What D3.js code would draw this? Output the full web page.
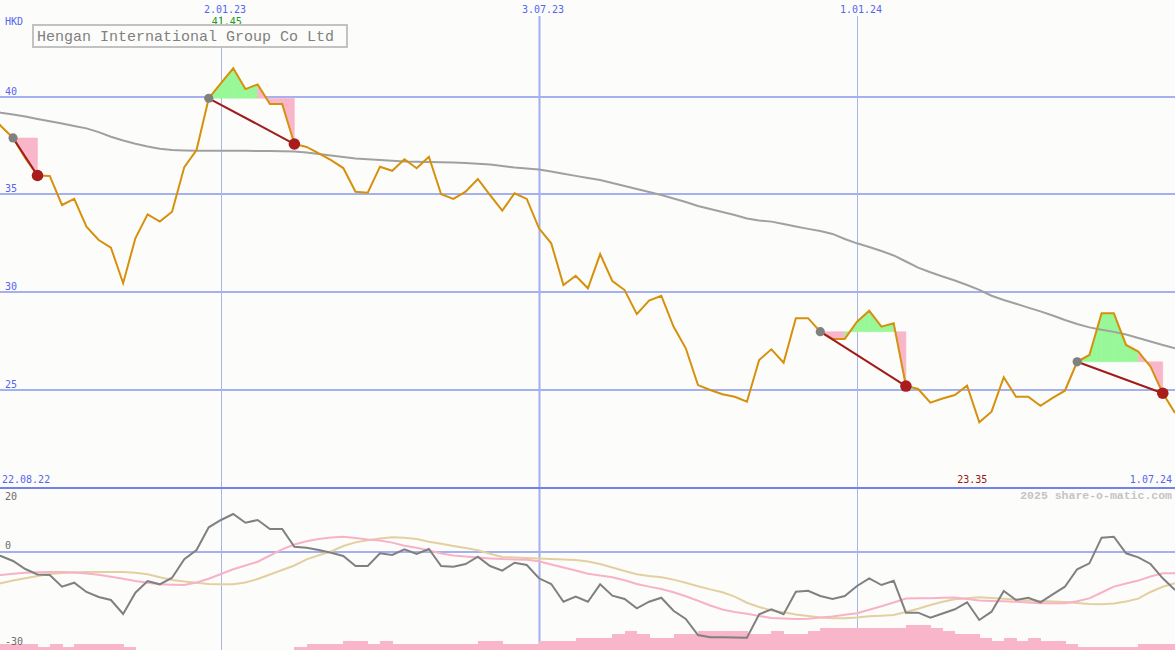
<!DOCTYPE html>
<html><head><meta charset="utf-8">
<script src="https://cdn.jsdelivr.net/npm/d3@7"></script>
<style>html,body{margin:0;padding:0;background:#fcfdfa;overflow:hidden}svg{display:block}</style>
</head><body><svg id="c" width="1175" height="650"></svg>
<script>
// ---- data ----
const startDate = new Date(2022, 7, 22);   // first weekly point
const endDate = new Date(2024, 6, 1);      // last weekly point
const title = "Hengan International Group Co Ltd";
const currency = "HKD";
const price = [39.22, 38.50, 37.89, 36.86, 35.97, 35.95, 34.46, 34.77, 33.35, 32.67,
 32.28, 30.46, 32.76, 33.98, 33.61, 34.12, 36.40, 37.27, 39.92, 40.70,
 41.45, 40.39, 40.63, 39.63, 39.63, 37.58, 37.43, 37.10, 36.76, 36.35,
 35.14, 35.09, 36.42, 36.21, 36.80, 36.34, 36.93, 35.01, 34.77, 35.14,
 35.79, 34.97, 34.17, 35.06, 34.77, 33.27, 32.50, 30.37, 30.84, 30.20,
 31.95, 30.57, 30.11, 28.88, 29.57, 29.82, 28.24, 27.13, 25.25, 25.00,
 24.78, 24.65, 24.40, 26.53, 27.08, 26.39, 28.67, 28.67, 27.98, 27.61,
 27.61, 28.49, 29.05, 28.24, 28.41, 25.20, 25.05, 24.35, 24.56, 24.74,
 25.22, 23.35, 23.89, 25.65, 24.65, 24.65, 24.19, 24.59, 24.96, 26.44,
 26.79, 28.92, 28.92, 27.30, 26.96, 26.19, 24.83, 23.82];
const movingAvg = [39.29, 39.18, 39.09, 38.99, 38.86, 38.74, 38.63, 38.50, 38.38, 38.19,
 37.95, 37.76, 37.59, 37.45, 37.34, 37.27, 37.25, 37.24, 37.24, 37.24,
 37.24, 37.23, 37.22, 37.22, 37.21, 37.20, 37.15, 37.07, 36.99, 36.92,
 36.84, 36.80, 36.76, 36.72, 36.68, 36.67, 36.66, 36.65, 36.63, 36.61,
 36.57, 36.53, 36.46, 36.38, 36.33, 36.28, 36.17, 36.06, 35.95, 35.84,
 35.74, 35.59, 35.43, 35.28, 35.13, 34.97, 34.79, 34.61, 34.41, 34.26,
 34.10, 33.95, 33.77, 33.67, 33.61, 33.49, 33.36, 33.24, 33.13, 32.98,
 32.72, 32.50, 32.31, 32.11, 31.88, 31.57, 31.26, 31.02, 30.80, 30.60,
 30.37, 30.12, 29.82, 29.60, 29.41, 29.21, 29.02, 28.81, 28.58, 28.37,
 28.20, 28.08, 27.97, 27.84, 27.66, 27.48, 27.30, 27.13];
const oscillator = [-0.3, -1.34, -2.91, -5.41, -7.13, -7.28, -10.94, -9.69, -12.59, -14.16,
 -15.09, -19.47, -12.81, -9.16, -10.19, -8.13, -2.38, 0.53, 7.63, 9.91,
 11.78, 9.06, 9.91, 7.09, 7.09, 1.56, 1.25, 0.53, -0.31, -1.34,
 -4.47, -4.47, -0.50, -1.03, 0.75, -0.72, 0.84, -4.47, -4.69, -3.84,
 -1.56, -4.47, -5.94, -3.44, -4.16, -8.31, -10.09, -15.63, -14.06, -15.63,
 -10.19, -13.75, -14.78, -17.69, -15.63, -14.38, -18.44, -21.03, -26.03, -26.75,
 -26.75, -26.8, -26.88, -19.56, -18.0, -19.56, -12.5, -12.19, -13.84, -14.78,
 -13.84, -10.72, -8.31, -10.41, -9.06, -19.06, -19.06, -20.63, -19.3, -18.0,
 -15.81, -21.34, -18.75, -12.28, -15.09, -14.38, -15.81, -13.31, -10.94, -5.5,
 -3.63, 4.38, 4.69, -0.5, -1.75, -3.84, -8.31, -11.97];
const oscFast = [-7.59, -7.28, -6.88, -6.59, -6.41, -6.34, -6.34, -6.50, -6.81, -7.22,
 -7.84, -8.47, -9.16, -9.72, -10.19, -10.31, -10.41, -9.63, -8.47, -6.97,
 -5.50, -4.31, -3.13, -1.19, 0.75, 2.25, 3.25, 4.00, 4.44, 4.69,
 4.28, 3.84, 3.53, 2.84, 1.88, 1.25, 0.38, -0.59, -1.22, -1.53,
 -1.81, -2.09, -2.31, -2.41, -2.53, -3.00, -4.00, -4.94, -5.88, -6.88,
 -7.47, -7.97, -8.94, -10.09, -10.91, -11.66, -12.69, -13.94, -15.34, -16.81,
 -18.06, -18.81, -19.41, -20.06, -20.72, -20.84, -21.00, -20.94, -20.59, -20.25,
 -19.72, -19.22, -18.13, -17.06, -15.88, -14.63, -14.56, -14.53, -14.38, -14.28,
 -14.78, -15.28, -15.41, -15.50, -15.66, -15.91, -16.13, -16.13, -16.13, -15.50,
 -14.59, -12.75, -10.91, -9.94, -9.03, -7.75, -6.75, -6.75];
const oscSlow = [-10.56, -9.84, -9.03, -8.31, -7.59, -6.97, -6.66, -6.47, -6.38, -6.34,
 -6.34, -6.34, -6.59, -7.03, -8.00, -8.84, -9.31, -9.72, -10.09, -10.19,
 -10.16, -9.63, -8.53, -7.13, -5.72, -4.31, -2.38, -1.13, 0.06, 1.78,
 2.91, 3.56, 4.13, 4.50, 4.38, 3.97, 3.09, 2.47, 1.78, 1.16,
 0.44, -0.66, -1.63, -1.81, -2.00, -2.16, -2.28, -2.44, -2.56, -3.09,
 -3.84, -4.94, -6.03, -7.03, -7.56, -8.00, -8.72, -9.69, -10.78, -11.78,
 -12.66, -14.03, -15.94, -17.28, -18.38, -18.91, -19.63, -20.09, -20.59, -20.81,
 -20.81, -20.56, -20.19, -20.00, -19.78, -18.84, -17.84, -16.66, -15.66, -14.84,
 -14.53, -14.25, -14.47, -14.72, -14.97, -15.22, -15.41, -15.56, -15.72, -16.03,
 -16.34, -16.41, -16.19, -15.56, -14.66, -12.59, -10.94, -9.88];
const activity = [2,2,2,2,1,2,1,2,2,2,
 2,1,0,0,0,0,0,0,0,0,
 0,0,0,0,0,1,2,2,2,3,
 3,2,3,2,2,2,2,2,2,2,
 3,3,2,2,2,3,3,3,4,4,
 4,5,6,5,4,4,5,5,6,6,
 6,6,5,5,6,5,5,6,7,7,
 7,7,7,7,7,8,8,7,6,5,
 5,4,3,4,3,4,3,3,2,1,
 1,1,1,1,2,2,2,2];
const signals = [[2, 4], [18, 25], [68, 75], [89, 96]]; // [buy week, sell week]
const priceTicks = [40, 35, 30, 25];
const oscTicks = [20, 0, -30];
const dateTicks = [new Date(2023, 0, 2), new Date(2023, 6, 3), new Date(2024, 0, 1)];
const dateLabels = ["2.01.23", "3.07.23", "1.01.24"];
const firstLabel = "22.08.22", lastLabel = "1.07.24";
const watermark = "2025 share-o-matic.com";

// ---- scales ----
const weeks = price.map((_, i) => d3.timeDay.offset(startDate, 7 * i));
const W = 1175, H = 650;
const x = d3.scaleTime().domain([startDate, endDate]).range([-11.4, W]);
const y = d3.scaleLinear().domain([20, 40]).range([487.7, 96.7]);
const yo = d3.scaleLinear().domain([-30, 20]).range([647.7, 487.7]);
const yb = d3.scaleLinear().domain([0, 8]).range([H, 625]);

const svg = d3.select("#c");
svg.append("rect").attr("width", W).attr("height", H).attr("fill", "#fcfdfa");
const font = "'DejaVu Sans Mono', 'Liberation Mono', monospace";
const blue = "#5565f2";

// vertical date lines
const fmtMonth = d3.timeFormat("%m");
svg.append("g").selectAll("line").data(dateTicks).join("line")
  .attr("x1", d => Math.round(x(d)) + 0.5).attr("x2", d => Math.round(x(d)) + 0.5)
  .attr("y1", 16).attr("y2", H)
  .attr("stroke", d => fmtMonth(d) === "07" ? "#a3aef0" : "#aab4e6")
  .attr("stroke-width", d => fmtMonth(d) === "07" ? 2 : 1);

// horizontal price grid
svg.append("g").selectAll("line").data(priceTicks).join("line")
  .attr("x1", 0).attr("x2", W)
  .attr("y1", d => Math.round(y(d))).attr("y2", d => Math.round(y(d)))
  .attr("stroke", "#a4b0f0").attr("stroke-width", 2);
// panel separator
svg.append("line").attr("x1", 0).attr("x2", W)
  .attr("y1", Math.round(y(20))).attr("y2", Math.round(y(20)))
  .attr("stroke", "#7282ea").attr("stroke-width", 2);
// oscillator zero line
svg.append("line").attr("x1", 0).attr("x2", W)
  .attr("y1", Math.round(yo(0))).attr("y2", Math.round(yo(0)))
  .attr("stroke", "#a4b0f0").attr("stroke-width", 2);

// activity bars (step)
const step = x(weeks[1]) - x(weeks[0]);
svg.append("g").selectAll("rect").data(activity).join("rect")
  .attr("x", (d, i) => x(weeks[i]))
  .attr("width", step + 0.6)
  .attr("y", d => yb(d))
  .attr("height", d => H - yb(d))
  .attr("fill", "#f9b5c9").attr("shape-rendering", "crispEdges");

// oscillator lines
const lo = arr => d3.line().x((d, i) => x(weeks[i])).y(d => yo(d))(arr);
svg.append("path").attr("d", lo(oscSlow)).attr("fill", "none").attr("stroke", "#e3cfa0").attr("stroke-width", 2);
svg.append("path").attr("d", lo(oscFast)).attr("fill", "none").attr("stroke", "#f7b2c8").attr("stroke-width", 2);
svg.append("path").attr("d", lo(oscillator)).attr("fill", "none").attr("stroke", "#808080").attr("stroke-width", 2);

// signal fills
const fills = svg.append("g");
signals.forEach(([b, s]) => {
  const entry = price[b];
  for (let k = b; k < s; k++) {
    const pts = [[x(weeks[k]), y(entry)], [x(weeks[k]), y(price[k])],
                 [x(weeks[k + 1]), y(price[k + 1])], [x(weeks[k + 1]), y(entry)]];
    fills.append("path").attr("d", d3.line()(pts) + "Z")
      .attr("fill", price[k + 1] >= entry ? "#98f898" : "#f9b5c9")
      .attr("stroke", price[k + 1] >= entry ? "#98f898" : "#f9b5c9").attr("stroke-width", 0.5);
  }
});

// moving average & price
const lp = arr => d3.line().x((d, i) => x(weeks[i])).y(d => y(d))(arr);
svg.append("path").attr("d", lp(movingAvg)).attr("fill", "none").attr("stroke", "#a0a0a0").attr("stroke-width", 2);
svg.append("path").attr("d", lp(price)).attr("fill", "none").attr("stroke", "#d6900c").attr("stroke-width", 2);

// signal connectors and dots
signals.forEach(([b, s]) => {
  svg.append("line").attr("x1", x(weeks[b])).attr("y1", y(price[b]))
    .attr("x2", x(weeks[s])).attr("y2", y(price[s]))
    .attr("stroke", "#a01c1c").attr("stroke-width", 2);
});
signals.forEach(([b, s]) => {
  svg.append("circle").attr("cx", x(weeks[b])).attr("cy", y(price[b])).attr("r", 4.6).attr("fill", "#808080");
  svg.append("circle").attr("cx", x(weeks[s])).attr("cy", y(price[s])).attr("r", 5.8).attr("fill", "#a81c1c");
});

// ---- text ----
const txt = (t, px, py, opts = {}) => svg.append("text").text(t).attr("x", px).attr("y", py)
  .attr("font-family", opts.family || font).attr("font-size", opts.size || 10)
  .attr("font-weight", opts.weight || "normal")
  .attr("fill", opts.fill || blue).attr("text-anchor", opts.anchor || "start");

txt(currency, 5, 25);
priceTicks.forEach(v => txt(String(v), 5, y(v) - 2));
oscTicks.forEach(v => {
  const py = v === 20 ? yo(v) + 12 : yo(v) - 2.5;
  txt(String(v), 5, py, { fill: "#6c6c6c" });
});
dateTicks.forEach((d, i) => txt(dateLabels[i], x(d) + 4, 12.7, { anchor: "middle" }));

// max / min labels
const iMax = d3.maxIndex(price), iMin = d3.minIndex(price);
txt(d3.format(".2f")(price[iMax]), x(weeks[iMax]) - 6.5, 25, { anchor: "middle", fill: "#1e9a1e" });
txt(d3.format(".2f")(price[iMin]), x(weeks[iMin]) - 7, 482.7, { anchor: "middle", fill: "#a01414" });
txt(firstLabel, 2, 482.7);
txt(lastLabel, 1172, 482.7, { anchor: "end" });
txt(watermark, 1172, 499, { anchor: "end", fill: "#c4c4c4", weight: "bold", size: 11.5, family: "'Liberation Mono', 'DejaVu Sans Mono', monospace" });

// title box
svg.append("rect").attr("x", 33).attr("y", 25).attr("width", 314).attr("height", 22)
  .attr("fill", "#fcfdfa").attr("stroke", "#c2c2c2").attr("stroke-width", 2);
txt(title, 37, 41, { fill: "#808080", size: 15, family: "'Liberation Mono', 'DejaVu Sans Mono', monospace" });
</script>
</body></html>
